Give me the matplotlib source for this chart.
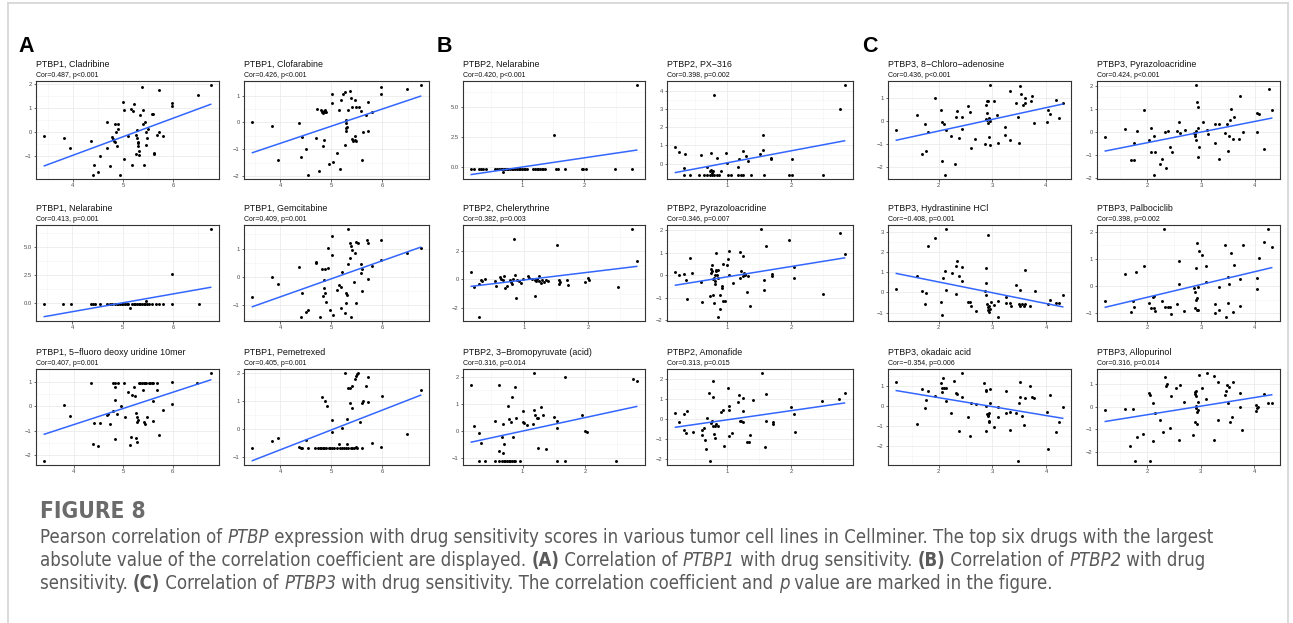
import matplotlib
matplotlib.use("Agg")
import matplotlib.pyplot as plt
from matplotlib import font_manager
from matplotlib.font_manager import FontProperties
from matplotlib.lines import Line2D
import numpy as np

# ---------------- data ----------------
# x = PTBP expression, y = drug sensitivity z-score

a1_pts = [(3.43,-0.15),(3.82,-0.25),(3.95,-0.65),(4.37,-0.38),(4.43,-1.39),(4.41,-1.77),(4.51,-1.66),(4.55,-1.0),
          (4.69,0.41),(4.69,-0.65),(4.75,-1.41),(4.79,-0.2),(4.8,-0.3),(4.82,-0.38),(4.84,-0.42),(4.84,0.34),(4.91,0.34),
          (4.86,0.03),(4.91,0.15),(4.88,-0.58),(4.95,-1.77),(5.01,1.25),(5.03,0.93),(5.03,-1.14),(5.1,-0.14),(5.15,0.97),
          (5.2,0.87),(5.22,1.18),(5.18,-1.39),(5.25,-0.1),(5.27,0.1),(5.28,-0.25),(5.29,-0.4),(5.29,-0.47),(5.3,-0.58),
          (5.31,-0.77),(5.32,-0.95),(5.25,-0.9),(5.33,0.72),(5.37,1.89),(5.39,0.94),(5.39,0.34),(5.43,0.45),(5.41,-1.39),
          (5.45,0.0),(5.45,-0.54),(5.47,-0.23),(5.49,0.15),(5.57,0.76),(5.59,0.75),(5.61,-0.92),(5.62,-0.86),(5.68,-0.13),
          (5.71,1.79),(5.71,0.03),(5.79,-0.15),(5.97,1.23),(5.97,1.08),(6.49,1.58),(6.75,1.96)]

a2_pts = [(3.45,0.0),(3.83,-0.14),(3.96,-1.38),(4.37,-0.02),(4.41,-1.27),(4.43,-0.55),(4.51,-1.0),(4.55,-1.94),
          (4.69,-0.59),(4.71,0.52),(4.75,-1.81),(4.8,0.45),(4.82,0.38),(4.85,0.44),(4.88,0.48),(4.9,0.39),(4.87,0.38),
          (4.83,0.35),(4.85,-0.65),(4.83,-0.88),(4.95,-1.56),(5.01,1.06),(5.01,0.73),(5.03,-1.46),(5.1,-1.13),(5.15,0.48),
          (5.17,-1.75),(5.19,0.85),(5.23,1.08),(5.27,1.13),(5.28,0.1),(5.29,-0.03),(5.28,-0.21),(5.29,-0.3),(5.31,-0.15),
          (5.27,-0.84),(5.36,1.19),(5.33,0.45),(5.39,0.91),(5.46,0.83),(5.4,0.56),(5.49,0.56),(5.55,0.56),(5.41,-0.63),
          (5.43,-0.69),(5.46,-0.67),(5.49,-0.69),(5.46,-0.5),(5.59,0.44),(5.61,-1.4),(5.62,-0.34),(5.67,0.29),(5.71,0.78),
          (5.72,-0.3),(5.79,0.38),(5.98,1.31),(5.98,1.06),(6.49,1.25),(6.75,1.38)]

a3_x = [3.44,3.82,3.97,4.37,4.41,4.44,4.54,4.69,4.74,4.79,4.84,4.88,4.91,4.95,4.98,5.01,5.05,5.08,5.11,5.18,
        5.22,5.25,5.28,5.32,5.35,5.39,5.42,5.45,5.49,5.52,5.59,5.66,5.72,5.8,5.99,6.51,5.15,5.47,5.99,6.75]
a3_y = [-0.15]*36 + [-0.5, 0.1, 2.6, 6.57]

a4_pts = [(3.83,-0.02),(5.33,1.68),(5.01,1.46),(4.7,0.53),(4.69,0.49),(4.37,0.33),(4.81,0.26),(4.88,0.26),(4.93,0.32),
          (4.93,1.02),(5.01,0.76),(5.21,0.18),(5.32,0.47),(5.36,0.65),(5.37,1.18),(5.39,1.08),(5.4,0.94),(5.46,0.85),
          (5.48,1.24),(5.53,1.21),(5.59,0.46),(5.6,0.26),(5.59,0.12),(5.69,1.32),(5.71,1.2),(5.71,-0.08),(5.79,0.4),
          (5.97,1.29),(5.97,0.59),(6.49,0.86),(6.75,1.02),(4.85,-0.1),(3.45,-0.71),(3.96,-0.24),(4.43,-0.56),
          (4.51,-1.24),(4.55,-1.18),(4.4,-1.41),(4.77,-1.41),(4.86,-0.38),(4.83,-0.68),(4.88,-0.56),(4.9,-0.88),
          (4.97,-1.18),(5.03,-1.35),(5.1,-0.47),(5.15,-0.29),(5.18,-0.35),(5.18,-1.09),(5.27,-1.27),(5.29,-0.59),
          (5.3,-0.65),(5.29,-0.92),(5.39,-1.41),(5.45,-0.2),(5.49,-0.91),(5.61,-0.51)]

a5_pts = [(3.41,-2.23),(3.8,0.04),(3.93,-0.39),(4.36,0.93),(4.39,-1.53),(4.42,-0.68),(4.49,-1.64),(4.54,-0.68),
          (4.68,-0.35),(4.69,-0.31),(4.74,-0.74),(4.79,-0.18),(4.8,0.93),(4.84,0.93),(4.89,0.93),(5.01,0.93),(4.84,0.77),
          (4.83,0.23),(4.84,-1.36),(4.88,-0.34),(4.95,-0.01),(5.03,-0.45),(5.09,0.57),(5.15,-1.57),(5.17,-1.28),
          (5.19,0.47),(5.22,0.77),(5.25,0.41),(5.27,-0.28),(5.28,-0.45),(5.3,-0.55),(5.28,-0.66),(5.27,-1.32),
          (5.29,-1.46),(5.33,0.93),(5.35,0.93),(5.39,0.93),(5.42,0.93),(5.45,0.93),(5.47,0.96),(5.52,0.93),(5.55,0.93),
          (5.59,0.93),(5.61,0.93),(5.68,0.93),(5.41,0.64),(5.42,-0.66),(5.44,-0.72),(5.49,-0.45),(5.61,-0.62),
          (5.61,0.2),(5.69,0.64),(5.72,-1.19),(5.8,-0.15),(5.99,0.97),(5.99,0.09),(6.5,0.95),(6.77,1.34)]

a6_pts = [(3.45,-0.7),(3.83,-0.45),(3.96,-0.33),(4.37,-0.67),(4.41,-0.7),(4.43,-0.7),(4.55,-0.7),(4.51,-0.4),
          (4.68,-0.7),(4.73,-0.7),(4.77,-0.7),(4.8,-0.7),(4.83,-0.7),(4.86,-0.7),(4.9,-0.7),(4.95,-0.7),(4.98,-0.7),
          (5.01,-0.7),(5.05,-0.7),(5.1,-0.7),(5.15,-0.55),(5.17,-0.7),(5.21,-0.7),(5.25,-0.7),(5.29,-0.7),(5.31,-0.55),
          (5.33,-0.7),(5.38,-0.7),(5.41,-0.7),(5.45,-0.7),(5.48,-0.67),(5.51,-0.7),(5.61,-0.7),(5.98,-0.67),
          (4.81,1.13),(4.88,1.0),(4.91,0.8),(5.01,0.33),(5.01,-0.12),(5.21,0.04),(5.27,1.99),(5.31,0.35),(5.33,1.47),
          (5.36,1.47),(5.37,0.94),(5.4,0.76),(5.41,1.55),(5.46,1.78),(5.48,1.88),(5.5,1.96),(5.53,1.99),(5.57,0.23),
          (5.61,0.91),(5.62,1.0),(5.68,1.52),(5.71,1.85),(5.71,0.97),(5.79,-0.52),(5.99,1.18),(6.49,-0.19),(6.75,1.38)]

b1_x = [0.18,0.23,0.31,0.33,0.37,0.41,0.56,0.59,0.62,0.65,0.68,0.7,0.73,0.75,0.77,0.8,0.83,0.85,0.88,0.91,0.94,
        0.96,0.99,1.02,1.04,1.07,1.18,1.2,1.23,1.26,1.28,1.31,1.34,1.37,1.55,1.58,1.69,1.96,1.98,2.02,2.49,2.77,
        0.69,1.51,2.84]
b1_y = [-0.17]*42 + [-0.42, 2.63, 6.76]

b2_pts = [(0.2,0.94),(0.25,0.65),(0.33,-0.22),(0.35,0.52),(0.33,-0.59),(0.42,-0.59),(0.59,0.48),(0.57,-0.59),
          (0.65,-0.59),(0.69,-0.59),(0.73,-0.59),(0.77,-0.59),(0.8,-0.59),(0.84,-0.59),(0.88,-0.59),(0.69,-0.19),
          (0.73,-0.4),(0.76,-0.35),(0.77,-0.48),(0.78,-0.41),(0.76,0.61),(0.8,3.78),(0.85,0.3),(0.91,-0.41),(0.98,0.57),
          (1.0,0.06),(1.01,-0.59),(1.06,-0.59),(1.17,-0.59),(1.22,-0.59),(1.25,-0.59),(1.38,-0.59),(1.57,-0.59),
          (1.96,-0.59),(2.02,-0.59),(2.5,-0.59),(1.17,-0.17),(1.19,0.24),(1.25,0.67),(1.3,0.44),(1.33,0.15),(1.51,0.52),
          (1.56,0.76),(1.56,1.59),(1.69,0.33),(1.69,0.24),(2.02,0.26),(2.76,2.98),(2.83,4.28)]

b3_pts = [(2.69,3.53),(0.84,2.88),(1.51,2.44),(2.76,1.28),(0.18,0.51),(0.22,-0.53),(0.3,-0.3),(0.33,-0.07),
          (0.35,-0.14),(0.39,0.0),(0.55,-0.14),(0.56,-0.47),(0.63,0.16),(0.65,0.05),(0.67,-0.07),(0.69,0.23),(0.71,-0.6),
          (0.74,-0.47),(0.78,-0.07),(0.8,-0.19),(0.81,-0.3),(0.83,0.05),(0.86,0.28),(0.88,-1.3),(0.9,-0.07),(0.92,-0.14),
          (0.96,-0.23),(0.98,0.05),(1.06,0.21),(1.08,0.09),(1.13,0.05),(1.17,-0.02),(1.19,-0.12),(1.21,0.0),(1.23,-0.14),
          (1.26,-0.23),(1.29,-0.07),(1.32,-0.19),(1.34,-0.07),(1.37,-0.14),(1.17,-1.16),(1.23,0.23),(1.55,-0.02),
          (1.57,-0.19),(1.55,-0.3),(1.68,-0.02),(1.69,-0.37),(1.96,-0.19),(2.0,0.09),(2.02,-0.07),(2.47,-0.53),(0.3,-2.63)]

b4_pts = [(1.52,2.03),(1.61,1.28),(1.96,1.56),(2.76,1.86),(2.83,0.94),(0.19,0.14),(0.25,0.01),(0.32,0.04),(0.45,0.12),
          (0.42,0.75),(0.76,0.45),(0.82,0.97),(0.76,0.2),(0.82,0.2),(0.85,0.25),(0.94,0.52),(1.02,1.06),(1.01,0.7),
          (1.0,0.46),(1.2,1.01),(1.25,0.84),(1.21,0.2),(1.26,0.1),(1.27,0.0),(0.8,0.0),(0.79,-0.12),(2.04,0.38),
          (0.36,-0.2),(0.37,-1.07),(0.59,-0.32),(0.61,-1.19),(0.74,0.26),(0.75,0.12),(0.78,-0.17),(0.8,-0.39),
          (0.81,-0.25),(0.83,0.23),(0.84,0.0),(0.85,-0.14),(0.73,-0.9),(0.77,-0.87),(0.79,-1.22),(0.85,-1.83),
          (0.88,-1.51),(0.89,-0.87),(0.91,-0.58),(0.92,-0.46),(0.94,-1.12),(0.96,-1.16),(1.02,0.0),(1.09,-0.35),
          (1.2,-0.1),(1.24,-0.03),(1.27,0.04),(1.32,-0.03),(1.31,-0.72),(1.36,-1.36),(1.57,-0.22),(1.57,-0.65),
          (1.69,-0.03),(1.7,0.04),(2.04,-0.14),(2.5,-0.83)]

b5_pts = [(0.18,1.69),(0.23,0.2),(0.31,-0.07),(0.34,-0.45),(0.31,-1.1),(0.4,-1.1),(0.56,-1.1),(0.63,-0.76),(0.63,-1.1),
          (0.67,-1.1),(0.7,-1.1),(0.72,-1.1),(0.75,-1.1),(0.78,-1.1),(0.8,-1.1),(0.83,-1.1),(0.86,-1.1),(0.88,-1.1),
          (0.96,-1.1),(0.56,0.37),(0.63,1.69),(0.67,-0.23),(0.69,0.25),(0.71,-0.48),(0.69,-0.81),(0.76,0.93),(0.78,0.44),
          (0.81,0.34),(0.83,1.26),(0.85,-0.23),(0.87,1.61),(0.9,0.48),(1.0,0.75),(1.01,0.34),(1.02,0.29),(1.07,0.22),
          (1.16,0.26),(1.18,2.13),(1.18,0.77),(1.2,0.6),(1.23,0.48),(1.25,0.48),(1.24,-0.64),(1.29,0.9),(1.33,0.59),
          (1.37,-0.66),(1.5,0.53),(1.55,0.38),(1.55,0.1),(1.54,-1.1),(1.67,-1.1),(1.67,2.0),(1.95,0.6),(2.0,0.0),
          (2.02,-0.05),(2.49,-1.1),(2.76,1.91),(2.82,1.85)]

b6_pts = [(0.19,0.3),(0.24,-0.16),(0.33,0.28),(0.37,0.44),(0.33,-0.54),(0.35,-0.7),(0.46,-0.62),(0.61,-0.54),
          (0.63,-0.43),(0.61,-0.79),(0.65,-1.03),(0.66,-1.49),(0.69,0.08),(0.71,1.34),(0.73,-2.07),(0.75,-0.21),
          (0.76,-0.08),(0.77,-0.33),(0.8,-0.33),(0.83,-0.26),(0.85,-0.33),(0.77,1.92),(0.78,1.1),(0.79,-0.74),
          (0.81,-0.95),(0.9,0.39),(0.94,0.49),(0.95,-1.36),(1.02,-0.82),(1.02,0.69),(1.03,0.49),(1.01,1.56),(1.07,-0.7),
          (1.17,0.89),(1.18,1.23),(1.2,-0.1),(1.22,-0.1),(1.24,-0.12),(1.24,0.44),(1.25,1.05),(1.3,-1.15),(1.34,-1.15),
          (1.36,-0.79),(1.4,0.97),(1.54,2.3),(1.59,-1.39),(1.6,1.26),(1.6,-0.08),(1.71,-0.16),(1.72,-0.25),(1.99,0.61),
          (2.04,0.25),(2.05,-0.62),(2.48,0.93),(2.75,1.02),(2.83,1.34)]

c1_pts = [(1.21,-0.41),(1.6,0.25),(1.69,-1.43),(1.74,-0.15),(1.77,-1.29),(1.81,-0.49),(1.94,0.99),(2.04,0.47),
          (2.07,-0.03),(2.06,-1.72),(2.11,-0.15),(2.12,-2.32),(2.14,-0.4),(2.24,-0.66),(2.3,-1.87),(2.32,0.19),(2.35,0.44),
          (2.38,-0.74),(2.43,0.18),(2.44,-0.34),(2.55,0.65),(2.59,0.38),(2.6,-1.15),(2.69,-0.76),(2.86,-1.0),(2.89,0.7),
          (2.91,0.85),(2.93,0.88),(2.91,0.34),(2.89,0.1),(2.91,0.03),(2.93,-0.07),(2.96,0.0),(2.95,0.12),(2.94,-0.69),
          (2.96,-1.03),(2.96,1.54),(3.03,0.88),(3.1,0.26),(3.11,-0.96),(3.25,-0.26),(3.25,-0.59),(3.33,1.29),(3.34,-0.81),
          (3.44,0.79),(3.49,0.18),(3.51,-0.96),(3.52,1.5),(3.54,1.15),(3.57,0.71),(3.61,0.76),(3.62,0.99),(3.74,1.1),
          (3.72,0.85),(3.79,-0.1),(4.03,-0.03),(4.05,0.47),(4.08,0.29),(4.19,0.91),(4.26,0.12),(4.32,0.79)]

c2_pts = [(1.22,-0.2),(1.59,0.15),(1.7,-1.22),(1.75,-1.22),(1.76,-0.49),(1.8,0.04),(1.93,0.95),(2.04,-0.32),(2.06,0.19),
          (2.07,-0.87),(2.15,-0.87),(2.12,-0.17),(2.12,-1.83),(2.24,-1.37),(2.28,-1.15),(2.32,0.0),(2.34,-1.56),(2.39,0.04),
          (2.43,-0.65),(2.45,-0.87),(2.56,0.04),(2.59,0.44),(2.61,-0.03),(2.7,0.09),(2.86,-0.03),(2.88,-0.17),(2.89,-0.1),
          (2.9,-0.36),(2.91,2.01),(2.92,1.28),(2.95,1.06),(2.9,0.04),(2.94,-1.09),(2.96,-0.64),(2.95,0.19),(3.03,0.44),
          (3.11,0.07),(3.12,-0.1),(3.25,-0.48),(3.25,0.33),(3.33,0.33),(3.34,-1.16),(3.45,-0.03),(3.48,0.33),(3.5,-0.83),
          (3.53,0.52),(3.52,-0.15),(3.56,0.99),(3.6,-0.29),(3.61,0.65),(3.71,-0.29),(3.72,1.56),(3.77,0.0),(4.03,0.84),
          (4.08,0.77),(4.04,0.0),(4.17,-0.71),(4.26,1.86),(4.31,0.95)]

c3_pts = [(1.8,2.3),(1.94,2.66),(2.14,3.11),(2.91,2.83),(2.34,1.56),(2.32,1.31),(2.44,1.26),(2.24,0.95),(2.12,1.05),
          (2.88,1.18),(3.6,1.11),(1.59,0.82),(1.21,0.16),(1.69,0.08),(1.76,-0.05),(1.74,-0.57),(2.04,-0.49),(2.06,-1.11),
          (2.08,0.69),(2.13,0.13),(2.32,-0.08),(2.38,0.79),(2.43,0.57),(2.55,-0.49),(2.59,-0.49),(2.6,-0.69),(2.69,-0.93),
          (2.86,0.08),(2.89,0.46),(2.89,-0.13),(2.9,-0.57),(2.92,-0.74),(2.94,-0.66),(2.91,-0.85),(2.96,-0.82),(2.93,-0.98),
          (2.98,-0.49),(3.1,-1.2),(3.11,-0.41),(3.03,-0.62),(3.25,-0.25),(3.25,-0.54),(3.33,-0.54),(3.35,-0.66),(3.49,-0.56),
          (3.52,-0.66),(3.55,-0.56),(3.44,0.38),(3.52,0.13),(3.61,-0.57),(3.58,-0.69),(3.71,-0.66),(3.79,0.05),(4.03,-0.56),
          (4.07,-0.36),(4.18,-0.54),(4.25,-0.52),(4.31,-0.13)]

c4_pts = [(2.31,2.08),(2.92,1.58),(2.96,1.3),(3.02,1.12),(3.44,1.5),(3.56,1.22),(3.78,1.5),(4.25,2.08),(4.17,1.63),
          (4.31,1.42),(4.07,1.02),(2.59,0.93),(3.09,0.72),(2.91,0.65),(3.61,0.77),(1.59,0.42),(1.79,0.51),(1.93,0.72),
          (1.22,-0.55),(1.69,-0.95),(1.74,-0.55),(1.76,-0.76),(2.11,-0.4),(2.12,-0.36),(2.03,-0.64),(2.07,-0.8),(2.12,-0.83),
          (2.15,-0.93),(2.28,-0.55),(2.33,-0.76),(2.38,-0.76),(2.42,-0.76),(2.44,-1.04),(2.56,-0.67),(2.59,0.08),(2.68,-0.91),
          (2.86,-0.07),(2.88,-0.22),(2.9,-0.52),(2.93,-0.44),(2.88,-0.8),(2.92,-0.88),(2.95,-0.88),(2.95,-0.04),(3.09,0.15),
          (3.25,-0.67),(3.25,-0.98),(3.33,-0.88),(3.33,-0.04),(3.47,-1.13),(3.5,-0.64),(3.5,0.33),(3.51,0.06),(3.59,-0.95),
          (3.72,0.24),(3.72,-0.74),(4.03,0.29),(4.03,-0.1)]

c5_pts = [(1.21,1.18),(1.6,-0.91),(1.69,0.83),(1.74,-0.12),(1.76,0.3),(1.8,0.75),(1.93,0.5),(2.04,1.16),(2.06,0.88),
          (2.1,0.88),(2.13,0.88),(2.08,1.38),(2.07,0.71),(2.14,0.27),(2.23,-0.36),(2.29,1.24),(2.32,0.63),(2.35,0.58),
          (2.38,-1.28),(2.43,1.63),(2.44,0.46),(2.54,-0.58),(2.58,-1.49),(2.6,0.17),(2.69,0.08),(2.85,1.13),(2.88,0.8),
          (2.89,0.76),(2.9,-0.4),(2.91,-0.45),(2.92,-0.48),(2.94,-0.37),(2.89,-1.24),(2.89,0.0),(2.93,-0.83),(2.94,-0.78),
          (2.96,0.83),(2.96,0.13),(3.03,-1.06),(3.1,-0.03),(3.1,-0.56),(3.25,0.76),(3.25,-0.33),(3.32,-1.19),(3.33,-0.28),
          (3.44,-0.33),(3.49,0.17),(3.51,1.18),(3.52,0.43),(3.55,-0.48),(3.59,-0.95),(3.61,0.41),(3.71,1.01),(3.73,0.43),
          (3.78,0.41),(3.47,-2.74),(4.02,-0.32),(4.03,-2.16),(4.07,0.55),(4.18,-1.33),(4.25,-0.83),(4.31,-0.03)]

c6_pts = [(1.22,-0.15),(1.59,-0.1),(1.69,-1.72),(1.74,-0.1),(1.78,-2.37),(1.81,-1.34),(1.93,-1.21),(2.04,0.61),
          (2.06,0.51),(2.06,-2.37),(2.11,0.15),(2.12,-1.5),(2.15,-0.26),(2.24,-0.58),(2.29,-1.11),(2.33,1.28),(2.36,0.92),
          (2.38,0.98),(2.43,-0.95),(2.45,0.47),(2.54,0.8),(2.61,0.95),(2.59,-1.46),(2.7,0.22),(2.86,-1.24),(2.89,0.66),
          (2.9,0.55),(2.92,0.7),(2.92,0.47),(2.91,0.04),(2.92,-0.07),(2.95,-0.15),(2.94,-0.22),(2.89,-0.66),(2.94,-0.77),
          (2.95,0.22),(2.97,1.38),(3.03,0.8),(3.11,0.32),(3.12,1.46),(3.25,1.34),(3.25,-1.48),(3.33,1.09),(3.33,-0.58),
          (3.45,0.51),(3.48,0.7),(3.5,0.95),(3.53,0.87),(3.51,0.17),(3.56,-0.66),(3.59,-0.44),(3.61,1.09),(3.73,0.61),
          (3.73,-0.03),(3.78,-1.02),(4.03,0.07),(4.04,-0.19),(4.08,-0.03),(4.06,-0.04),(4.19,0.54),(4.26,0.17),(4.33,0.17)]

titles = ["PTBP1, Cladribine", "PTBP1, Clofarabine", "PTBP1, Nelarabine", "PTBP1, Gemcitabine",
          "PTBP1, 5\u2212fluoro deoxy uridine 10mer", "PTBP1, Pemetrexed",
          "PTBP2, Nelarabine", "PTBP2, PX\u2212316", "PTBP2, Chelerythrine", "PTBP2, Pyrazoloacridine",
          "PTBP2, 3\u2212Bromopyruvate (acid)", "PTBP2, Amonafide",
          "PTBP3, 8\u2212Chloro\u2212adenosine", "PTBP3, Pyrazoloacridine", "PTBP3, Hydrastinine HCl",
          "PTBP3, Palbociclib", "PTBP3, okadaic acid", "PTBP3, Allopurinol"]
subtitles = ["Cor=0.487, p<0.001", "Cor=0.426, p<0.001", "Cor=0.413, p=0.001", "Cor=0.409, p=0.001",
             "Cor=0.407, p=0.001", "Cor=0.405, p=0.001",
             "Cor=0.420, p<0.001", "Cor=0.398, p=0.002", "Cor=0.382, p=0.003", "Cor=0.346, p=0.007",
             "Cor=0.316, p=0.014", "Cor=0.313, p=0.015",
             "Cor=0.436, p<0.001", "Cor=0.424, p<0.001", "Cor=\u22120.408, p=0.001", "Cor=0.398, p=0.002",
             "Cor=\u22120.354, p=0.006", "Cor=0.316, p=0.014"]

group_xticks = [[4, 5, 6], [1, 2], [2, 3, 4]]
panel_yticks = [[-1, 0, 1, 2], [-2, -1, 0, 1], [0.0, 2.5, 5.0], [-1, 0, 1], [-2, -1, 0, 1], [-1, 0, 1, 2],
                [0.0, 2.5, 5.0], [0, 1, 2, 3, 4], [-2, 0, 2], [-2, -1, 0, 1, 2], [-1, 0, 1, 2], [-2, -1, 0, 1, 2],
                [-2, -1, 0, 1], [-2, -1, 0, 1, 2], [-1, 0, 1, 2, 3], [-1, 0, 1, 2], [-2, -1, 0, 1], [-2, -1, 0, 1]]
panel_letters = ["A", "B", "C"]

caption_title = "FIGURE 8"
caption_lines = [
    [("Pearson correlation of ", "normal", "normal"), ("PTBP", "italic", "normal"),
     (" expression with drug sensitivity scores in various tumor cell lines in Cellminer. The top six drugs with the largest", "normal", "normal")],
    [("absolute value of the correlation coefficient are displayed. ", "normal", "normal"), ("(A)", "normal", "bold"),
     (" Correlation of ", "normal", "normal"), ("PTBP1", "italic", "normal"), (" with drug sensitivity. ", "normal", "normal"),
     ("(B)", "normal", "bold"), (" Correlation of ", "normal", "normal"), ("PTBP2", "italic", "normal"),
     (" with drug", "normal", "normal")],
    [("sensitivity. ", "normal", "normal"), ("(C)", "normal", "bold"), (" Correlation of ", "normal", "normal"),
     ("PTBP3", "italic", "normal"), (" with drug sensitivity. The correlation coefficient and ", "normal", "normal"),
     ("p", "italic", "normal"), (" value are marked in the figure.", "normal", "normal")],
]


def split(pts):
    return [p[0] for p in pts], [p[1] for p in pts]


panel_data = [split(a1_pts), split(a2_pts), (a3_x, a3_y), split(a4_pts), split(a5_pts), split(a6_pts),
              (b1_x, b1_y), split(b2_pts), split(b3_pts), split(b4_pts), split(b5_pts), split(b6_pts),
              split(c1_pts), split(c2_pts), split(c3_pts), split(c4_pts), split(c5_pts), split(c6_pts)]

# ---------------- layout (pixels) ----------------
W, H = 1293, 623
col_left = [36, 244, 463, 667, 888, 1097]
col_right = [219, 429, 645, 853, 1071, 1280]
row_top = [81, 225, 369]
row_bot = [179, 321, 465]
letter_x = [18, 437, 862]

plot_font = "Liberation Sans"


def find_font(name, stretch, style, weight):
    for f in font_manager.fontManager.ttflist:
        if f.name == name and f.stretch == stretch and f.style == style and f.weight == weight:
            return f.fname
    return None


# a condensed face for the caption, if one is installed
cap_props = {}
for key, (st, wt) in {"n": ("normal", 400), "i": ("oblique", 400), "b": ("normal", 700)}.items():
    fn = find_font("DejaVu Sans", "condensed", st, wt)
    if fn is None and st == "oblique":
        fn = find_font("DejaVu Sans", "condensed", "italic", wt)
    cap_props[key] = fn
use_cond = all(v is not None for v in cap_props.values())

fig = plt.figure(figsize=(W / 100, H / 100), dpi=100)
fig.patch.set_facecolor("white")


def minors(t):
    d = t[1] - t[0]
    return [t[0] - d / 2] + [v + d / 2 for v in t]


def padded(v):
    lo, hi = min(v), max(v)
    r = hi - lo
    return lo - 0.05 * r, hi + 0.05 * r


for i, (xs, ys) in enumerate(panel_data):
    g, k = divmod(i, 6)
    r, c = divmod(k, 2)
    col = 2 * g + c
    l, t, rr, b = col_left[col], row_top[r], col_right[col], row_bot[r]
    ax = fig.add_axes([l / W, 1 - b / H, (rr - l) / W, (b - t) / H])
    xs = np.array(xs)
    ys = np.array(ys)
    ax.scatter(xs, ys, s=4.5, color="black", linewidths=0, zorder=3)
    slope, icpt = np.polyfit(xs, ys, 1)
    xl = np.array([xs.min(), xs.max()])
    yl = slope * xl + icpt
    ax.plot(xl, yl, color="#3366FF", lw=1.1, zorder=4)

    xt = group_xticks[g]
    yt = panel_yticks[i]
    ax.set_xticks(xt)
    ax.set_yticks(yt)
    ax.set_xticks(minors(xt), minor=True)
    ax.set_yticks(minors(yt), minor=True)
    # scale trained on points and fitted line, 5% expansion (ggplot style)
    ax.set_xlim(*padded(xs))
    ax.set_ylim(*padded(np.concatenate([ys, yl])))
    ax.grid(which="major", color="#EBEBEB", lw=0.6, zorder=0)
    ax.grid(which="minor", color="#F3F3F3", lw=0.4, zorder=0)
    ax.set_axisbelow(True)
    ax.tick_params(which="major", length=1.8, width=0.5, color="#333333", pad=1.2,
                   labelsize=4.2, labelcolor="#4D4D4D")
    ax.tick_params(which="minor", length=0)
    for tl in ax.get_xticklabels() + ax.get_yticklabels():
        tl.set_family(plot_font)
    for sp in ax.spines.values():
        sp.set_color("#333333")
        sp.set_linewidth(0.8)

    fig.text(l / W, 1 - (t - 16.5) / H, titles[i], fontsize=6.4, family=plot_font,
             color="#111111", ha="left", va="center")
    fig.text(l / W, 1 - (t - 5.5) / H, subtitles[i], fontsize=5.0, family=plot_font,
             color="#111111", ha="left", va="center")

for g, letter in enumerate(panel_letters):
    fig.text(letter_x[g] / W, 1 - 47 / H, letter, fontsize=15.5, weight="bold",
             family=plot_font, ha="left", va="center", color="black")

# page frame
frame = "#D4D4D4"
fig.add_artist(Line2D([7.5 / W, 7.5 / W], [0, 1 - 2.5 / H], color=frame, lw=1.2))
fig.add_artist(Line2D([1287.5 / W, 1287.5 / W], [0, 1 - 2.5 / H], color=frame, lw=1.2))
fig.add_artist(Line2D([7.5 / W, 1287.5 / W], [1 - 2.5 / H, 1 - 2.5 / H], color=frame, lw=1.2))

# caption
renderer = fig.canvas.get_renderer()


def cap_kw(size, style, weight):
    if use_cond:
        key = "i" if style == "italic" else ("b" if weight == "bold" else "n")
        return dict(fontproperties=FontProperties(fname=cap_props[key], size=size))
    return dict(fontsize=size, family="DejaVu Sans", style=style, weight=weight)


def run_width(s, size, style, weight):
    kw = cap_kw(size, style, weight)
    t1 = fig.text(0, 0, "|" + s + "|", **kw)
    t2 = fig.text(0, 0, "||", **kw)
    w = t1.get_window_extent(renderer).width - t2.get_window_extent(renderer).width
    t1.remove()
    t2.remove()
    return w


def line_width(runs, size):
    return sum(run_width(s, size, st, wt) for s, st, wt in runs)


cap_size = 10.0 * 1176 / line_width(caption_lines[0], 10.0)
cap_color = "#5A5A5A"

fig.text(40 / W, 1 - 518 / H, caption_title, color="#6B6B6B", ha="left", va="baseline",
         **cap_kw(cap_size * 1.22, "normal", "bold"))

for j, runs in enumerate(caption_lines):
    x = 40.0
    yb = 543 + 23 * j
    for s, st, wt in runs:
        fig.text(x / W, 1 - yb / H, s, color=cap_color, ha="left", va="baseline", **cap_kw(cap_size, st, wt))
        x += run_width(s, cap_size, st, wt)

fig.savefig("out.png", dpi=100, facecolor="white")
